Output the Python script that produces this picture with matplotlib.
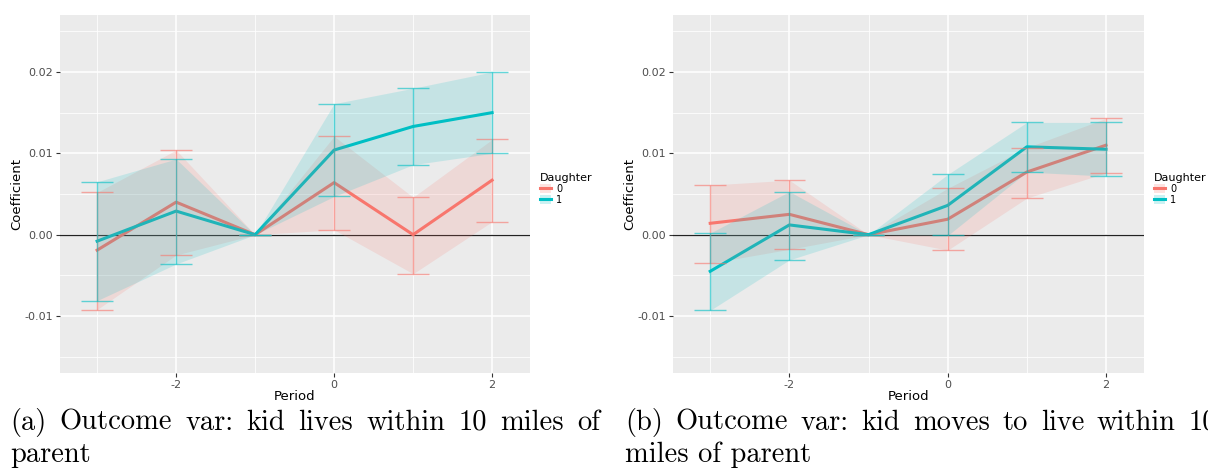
import numpy as np
import matplotlib.pyplot as plt
from matplotlib.patches import Patch
from matplotlib.lines import Line2D

plt.rcParams['axes.unicode_minus'] = False
plt.rcParams['font.family'] = ['DejaVu Sans']

# periods relative to event
period = [-3, -2, -1, 0, 1, 2]

# (a) kid lives within 10 miles of parent
a_d0 = [-0.0019, 0.0040, 0.0, 0.0064, 0.0000, 0.0067]
a_d0_lo = [-0.0092, -0.0025, 0.0, 0.0006, -0.0048, 0.0016]
a_d0_hi = [0.0052, 0.0104, 0.0, 0.0121, 0.0046, 0.0117]
a_d1 = [-0.0008, 0.0029, 0.0, 0.0104, 0.0133, 0.0150]
a_d1_lo = [-0.0081, -0.0036, 0.0, 0.0047, 0.0086, 0.0100]
a_d1_hi = [0.0065, 0.0093, 0.0, 0.0161, 0.0180, 0.0200]

# (b) kid moves to live within 10 miles of parent
b_d0 = [0.0014, 0.0025, 0.0, 0.0019, 0.0077, 0.0110]
b_d0_lo = [-0.0035, -0.0018, 0.0, -0.0019, 0.0045, 0.0076]
b_d0_hi = [0.0061, 0.0067, 0.0, 0.0057, 0.0107, 0.0143]
b_d1 = [-0.0045, 0.0012, 0.0, 0.0036, 0.0108, 0.0105]
b_d1_lo = [-0.0093, -0.0031, 0.0, -0.0001, 0.0077, 0.0072]
b_d1_hi = [0.0002, 0.0053, 0.0, 0.0074, 0.0138, 0.0138]

cap_a = ['(a) Outcome var: kid lives within 10 miles of', 'parent']
cap_b = ['(b) Outcome var: kid moves to live within 10', 'miles of parent']

red = '#F8766D'
teal = '#00BFC4'
grey_txt = '#4D4D4D'
W, H = 1208, 472


def draw_panel(ax, series):
    ax.set_facecolor('#EBEBEB')
    for s in ax.spines.values():
        s.set_visible(False)
    ax.set_xlim(-3.47, 2.48)
    ax.set_ylim(-0.0170, 0.0270)
    ax.set_xticks([-2, 0, 2])
    ax.set_xticklabels(['-2', '0', '2'])
    ax.set_yticks([-0.01, 0.0, 0.01, 0.02])
    ax.set_yticklabels(['-0.01', '0.00', '0.01', '0.02'])
    ax.set_xticks([-3, -1, 1], minor=True)
    ax.set_yticks([-0.015, -0.005, 0.005, 0.015, 0.025], minor=True)
    ax.grid(True, which='major', color='white', lw=1.1, zorder=0)
    ax.grid(True, which='minor', color='white', lw=0.55, zorder=0)
    ax.set_axisbelow(True)
    ax.tick_params(which='major', length=3, color='#333333', labelsize=8, labelcolor=grey_txt, pad=2)
    ax.tick_params(which='minor', length=0)
    ax.axhline(0, color='#222222', lw=0.9, zorder=2)

    x = np.array(period)
    # lines first, ribbons drawn over them
    for y, lo, hi, c in series:
        ax.plot(x, y, color=c, lw=2.2, zorder=3)
    for y, lo, hi, c in series:
        ax.fill_between(x, lo, hi, color=c, alpha=0.16, lw=0, zorder=4)
    for y, lo, hi, c in series:
        ax.vlines(x, lo, hi, color=c, alpha=0.6, lw=1.0, zorder=5)
        ax.hlines(lo, x - 0.2, x + 0.2, color=c, alpha=0.6, lw=1.0, zorder=5)
        ax.hlines(hi, x - 0.2, x + 0.2, color=c, alpha=0.6, lw=1.0, zorder=5)

    ax.set_xlabel('Period', fontsize=9.5, labelpad=0)
    ax.set_ylabel('Coefficient', fontsize=9.5, labelpad=0.5)

    handles = [(Patch(facecolor=red, alpha=0.2, lw=0), Line2D([], [], color=red, lw=2.2)),
               (Patch(facecolor=teal, alpha=0.2, lw=0), Line2D([], [], color=teal, lw=2.2))]
    leg = ax.legend(handles, ['0', '1'], title='Daughter', loc='center left',
                    bbox_to_anchor=(1.01, 0.515), frameon=False, fontsize=7,
                    title_fontsize=8, handlelength=1.2, handleheight=1.0,
                    handletextpad=0.5, labelspacing=0.1, borderpad=0)
    leg._legend_box.align = 'left'


def justified(fig, words_line, x0, width, y, size):
    # place words one by one so the line fills the column (like LaTeX)
    words = words_line.split(' ')
    r = fig.canvas.get_renderer()
    txts = [fig.text(0, y, w, fontfamily='cmr10', fontsize=size, va='baseline', ha='left')
            for w in words]
    ws = [t.get_window_extent(r).width for t in txts]
    gap = (width - sum(ws)) / (len(words) - 1)
    xp = x0
    for t, w in zip(txts, ws):
        t.set_x(xp / W)
        xp += w + gap


fig = plt.figure(figsize=(12.08, 4.72), dpi=100)
ax1 = fig.add_axes([60 / W, (H - 373) / H, 470 / W, 358 / H])
ax2 = fig.add_axes([673 / W, (H - 373) / H, 471 / W, 358 / H])

draw_panel(ax1, [(a_d0, a_d0_lo, a_d0_hi, red), (a_d1, a_d1_lo, a_d1_hi, teal)])
draw_panel(ax2, [(b_d0, b_d0_lo, b_d0_hi, red), (b_d1, b_d1_lo, b_d1_hi, teal)])

fs = 20.5
justified(fig, cap_a[0], 10, 590, 1 - 430 / H, fs)
fig.text(10 / W, 1 - 462 / H, cap_a[1], fontfamily='cmr10', fontsize=fs, va='baseline')
justified(fig, cap_b[0], 625, 592, 1 - 430 / H, fs)
fig.text(625 / W, 1 - 462 / H, cap_b[1], fontfamily='cmr10', fontsize=fs, va='baseline')

fig.savefig('out.png', dpi=100, facecolor='white')
